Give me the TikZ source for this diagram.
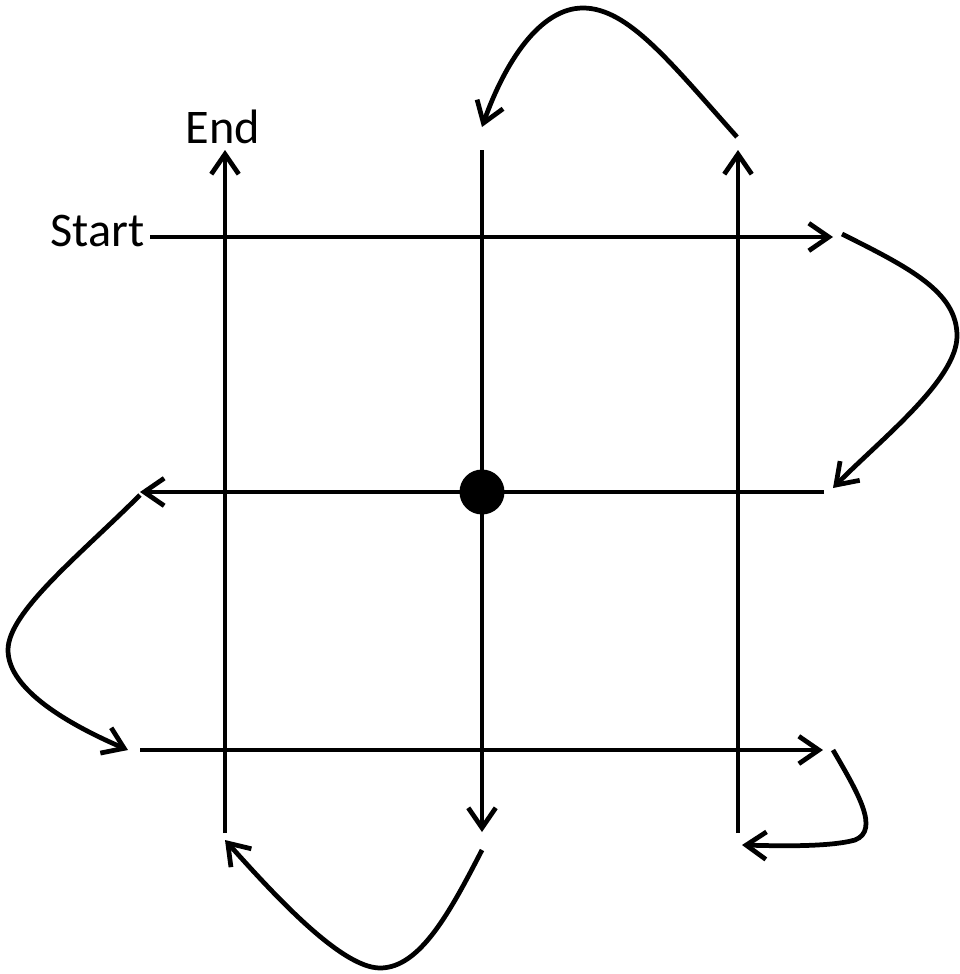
\documentclass[tikz,border=0pt]{standalone}
\usepackage{fontspec}
\setmainfont{Carlito}
\usetikzlibrary{arrows.meta}

\begin{document}
\begin{tikzpicture}[x=0.02cm, y=-0.02cm,
    every node/.style={font=\fontsize{27.5}{32}\selectfont, inner sep=0pt},
    ln/.style={line width=2.7pt},
    e/.style={ln, -{Straight Barb[length=4mm, width=5.5mm]}},
    dot/.style={circle, fill=black, minimum size=0.9cm, inner sep=0pt},
  ]
  \useasboundingbox (0,0) rectangle (960,974);
  % labels
  \node[anchor=east] (start) at (145,231) {Start};
  \node (end) at (223,127) {End};
  % end points of the grid lines
  \coordinate (h1a) at (150,237); \coordinate (h1b) at (833,237);
  \coordinate (h2a) at (824,492); \coordinate (h2b) at (140,492);
  \coordinate (h3a) at (140,750); \coordinate (h3b) at (823,750);
  \coordinate (v1a) at (225,833); \coordinate (v1b) at (225,150);
  \coordinate (v2a) at (482,150); \coordinate (v2b) at (482,832);
  \coordinate (v3a) at (738,833); \coordinate (v3b) at (738,150);
  % grid lines
  \draw[e] (h1a) -- (h1b);
  \draw[e] (h2a) -- (h2b);
  \draw[e] (h3a) -- (h3b);
  \draw[e] (v1a) -- (v1b);
  \draw[e] (v2a) -- (v2b);
  \draw[e] (v3a) -- (v3b);
  \node[dot] (mid) at (482,492) {};
  % turns between the lines
  \coordinate (t1a) at (737,137); \coordinate (t1b) at (482,127);
  \coordinate (t2a) at (842,234); \coordinate (t2b) at (833,488);
  \coordinate (t3a) at (140,495); \coordinate (t3b) at (128,750);
  \coordinate (t4a) at (833,750); \coordinate (t4b) at (742,845);
  \coordinate (t5a) at (482,850); \coordinate (t5b) at (225,840);
  \draw[e] (t1a) .. controls (670,62) and (628,8) .. (583,8)
                 .. controls (540,8) and (505,62) .. (t1b);
  \draw[e] (t2a) .. controls (910,268) and (957,292) .. (957,336)
                 .. controls (957,380) and (880,440) .. (t2b);
  \draw[e] (t3a) .. controls (80,555) and (8,612) .. (8,650)
                 .. controls (8,690) and (70,725) .. (t3b);
  \draw[e] (t4a) .. controls (858,793) and (880,830) .. (855,840)
                 .. controls (830,847) and (780,846) .. (t4b);
  \draw[e] (t5a) .. controls (450,912) and (420,968) .. (380,968)
                 .. controls (340,968) and (270,890) .. (t5b);
\end{tikzpicture}
\end{document}
